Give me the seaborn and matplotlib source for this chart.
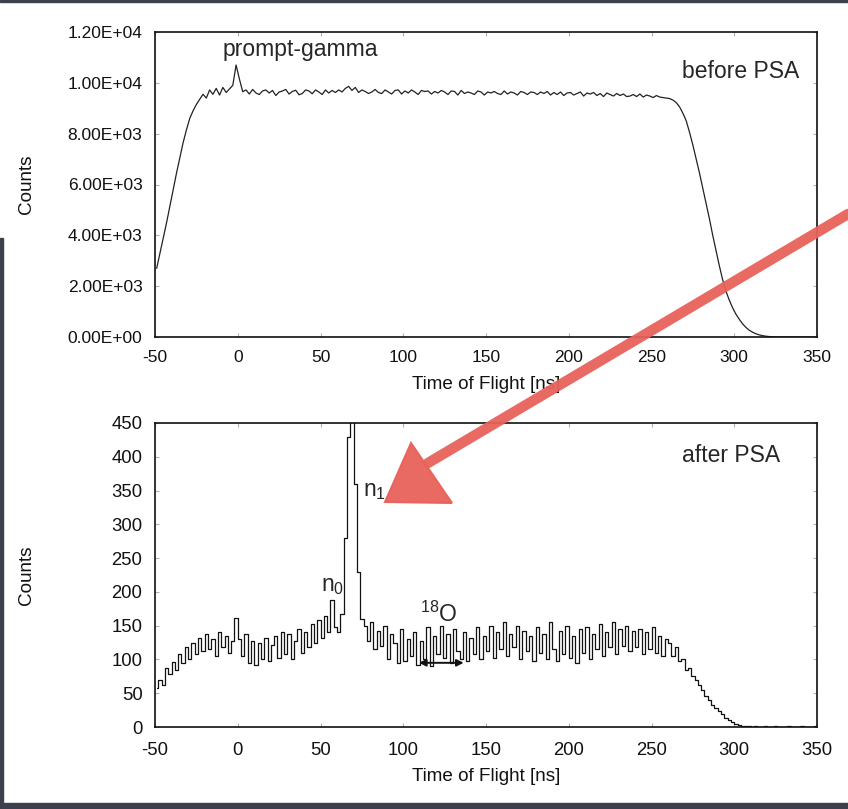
import numpy as np
import pandas as pd
import matplotlib
matplotlib.use("Agg")
import matplotlib.pyplot as plt
import seaborn as sns
from matplotlib.ticker import FuncFormatter, FixedLocator
from matplotlib.patches import Rectangle, Polygon
from matplotlib.lines import Line2D

# ---------------- data ----------------
tof_centers = np.arange(-49, 350, 2)  # 2 ns bins, centres

counts_before = [
    2700, 3300, 3900, 4500, 5150, 5800, 6450, 7050, 7650, 8150,
    8600, 8900, 9150, 9350, 9550, 9400, 9720, 9550, 9780, 9520,
    9820, 9620, 9760, 9900, 10700,
    10150, 9650, 9720, 9560, 9740, 9600, 9540, 9680, 9720, 9600,
    9700, 9500, 9640, 9680, 9740, 9560, 9660, 9710, 9530, 9580,
    9720, 9680, 9570, 9720, 9640, 9540, 9720, 9600, 9700, 9620,
    9720, 9640, 9780, 9860, 9700, 9820, 9620, 9720, 9660, 9580,
    9640, 9740, 9620, 9580, 9720, 9640, 9560, 9700, 9720, 9560,
    9680, 9600, 9720, 9640, 9540, 9700, 9660, 9680, 9560, 9660,
    9600, 9700, 9640, 9540, 9680, 9660, 9520, 9700, 9580, 9640,
    9600, 9540, 9680, 9640, 9520, 9640, 9600, 9660, 9580, 9540,
    9680, 9560, 9640, 9600, 9520, 9660, 9620, 9540, 9640, 9620,
    9540, 9640, 9580, 9660, 9520, 9620, 9540, 9640, 9500, 9600,
    9620, 9520, 9580, 9640, 9480, 9600, 9560, 9620, 9500, 9580,
    9460, 9600, 9540, 9480, 9580, 9500, 9560, 9460, 9480, 9540,
    9460, 9560, 9440, 9520, 9480, 9420, 9500, 9440, 9420, 9400,
    9380, 9320, 9220, 9050, 8800, 8500, 8050, 7550, 7000, 6450,
    5850, 5250, 4650, 4000, 3400, 2800, 2250, 1800, 1450, 1150,
    900, 700, 520, 380, 270, 190, 130, 85, 55, 32,
    18, 10, 5, 3, 2, 1, 1, 0, 0, 0,
    0, 0, 0, 0, 0,
]

counts_after = [
    58, 70, 62, 88, 78, 96, 84, 108, 95, 118,
    100, 125, 108, 132, 112, 138, 115, 130, 105, 140,
    118, 135, 110, 128, 162,
    130, 105, 138, 95, 128, 92, 125, 100, 132, 98,
    122, 135, 102, 140, 108, 138, 100, 128, 145, 110,
    140, 118, 152, 125, 158, 132, 165, 140, 188, 148,
    140, 168, 280, 430, 480, 360, 230, 160, 150, 128,
    155, 115, 142, 120, 150, 100, 138, 125, 95, 145,
    98, 130, 105, 140, 92, 128, 100, 148, 90, 135,
    108, 150, 102, 138, 95, 145, 112, 100, 140, 98,
    132, 108, 148, 100, 135, 112, 150, 102, 140, 115,
    155, 105, 138, 118, 150, 100, 142, 112, 135, 98,
    148, 110, 138, 100, 155, 115, 98, 142, 108, 150,
    102, 135, 95, 145, 110, 148, 100, 138, 115, 152,
    105, 140, 118, 155, 108, 145, 120, 150, 112, 142,
    118, 145, 108, 140, 115, 148, 110, 135, 105, 130,
    125, 105, 118, 98, 100, 85, 88, 75, 70, 62,
    55, 46, 40, 33, 28, 23, 19, 14, 10, 7,
    5, 3, 2, 1, 1,
    0, 1, 0, 0, 1, 0, 0, 1, 0, 0,
    0, 1, 0, 0, 0, 1, 0, 0, 0, 1,
]

x_ticks = [-50, 0, 50, 100, 150, 200, 250, 300, 350]
before_yticks = [0, 2000, 4000, 6000, 8000, 10000, 12000]
after_yticks = [0, 50, 100, 150, 200, 250, 300, 350, 400, 450]

# ---------------- style ----------------
sns.set_style("ticks")
plt.rcParams["font.family"] = ["Liberation Sans", "DejaVu Sans"]
plt.rcParams["mathtext.fontset"] = "custom"
plt.rcParams["mathtext.rm"] = "Liberation Sans"
plt.rcParams["mathtext.default"] = "regular"
plt.rcParams["axes.unicode_minus"] = False

W, H = 848, 809
fig = plt.figure(figsize=(W / 100, H / 100), dpi=100)
fig.patch.set_facecolor("white")


def px_rect(x0, y0, x1, y1):
    return [x0 / W, 1 - y1 / H, (x1 - x0) / W, (y1 - y0) / H]


def fpt(x, y):
    return (x / W, 1 - y / H)


ax1 = fig.add_axes(px_rect(155, 32, 817, 337))
ax2 = fig.add_axes(px_rect(155, 423, 817, 727))

df_before = pd.DataFrame({"tof": tof_centers, "counts": counts_before})
df_after = pd.DataFrame({"tof": tof_centers, "counts": counts_after})

sns.lineplot(data=df_before, x="tof", y="counts", ax=ax1, estimator=None,
             color="#222222", lw=0.9)
sns.lineplot(data=df_after, x="tof", y="counts", ax=ax2, estimator=None,
             drawstyle="steps-mid", color="#111111", lw=0.9)

for ax, yt, ylim, tsize in ((ax1, before_yticks, (0, 12000), 12.5),
                            (ax2, after_yticks, (0, 450), 13.3)):
    ax.set_xlim(-50, 350)
    ax.set_ylim(*ylim)
    ax.xaxis.set_major_locator(FixedLocator(x_ticks))
    ax.yaxis.set_major_locator(FixedLocator(yt))
    ax.tick_params(direction="in", length=3, width=0.8, color="#b0b0b0",
                   top=True, right=True, labelsize=tsize, labelcolor="#111111")
    ax.tick_params(axis="y", pad=9)
    for s in ax.spines.values():
        s.set_visible(True)
        s.set_linewidth(1.2)
        s.set_color("#111111")
    ax.set_xlabel("Time of Flight [ns]", fontsize=13.6, color="#111111")
    ax.set_ylabel("Counts", fontsize=13.6, color="#111111")
    ax.yaxis.set_label_coords(-0.181, 0.5)

ax1.tick_params(axis="x", pad=9)
ax2.tick_params(axis="x", pad=11)
ax1.xaxis.set_label_coords(0.5, -0.128)
ax2.xaxis.set_label_coords(0.5, -0.135)

ax1.yaxis.set_major_formatter(FuncFormatter(lambda v, p: f"{v:.2E}"))

# annotations
ax1.text(37.6, 11300, "prompt-gamma", fontsize=16.5, ha="center", va="center")
ax1.text(339.5, 10450, "before PSA", fontsize=16.5, ha="right", va="center")
ax2.text(327.5, 402, "after PSA", fontsize=16.5, ha="right", va="center")
ax2.text(75.5, 350, "n$_1$", fontsize=16.5, ha="left", va="center")
ax2.text(50.3, 210, "n$_0$", fontsize=16.5, ha="left", va="center")
ax2.text(110, 156, "$^{18}$O", fontsize=16.5, ha="left", va="baseline")
ax2.annotate("", xy=(136.5, 95), xytext=(109.5, 95),
             arrowprops=dict(arrowstyle="<|-|>", lw=1.4, color="#111111",
                             mutation_scale=10, shrinkA=0, shrinkB=0))

# hand-drawn red arrow overlay
red = "#e8625b"
lx = [fpt(848, 214)[0], fpt(428, 463)[0]]
ly = [fpt(848, 214)[1], fpt(428, 463)[1]]
fig.add_artist(Line2D(lx, ly, transform=fig.transFigure, color=red, lw=7.5,
                      solid_capstyle="round", alpha=0.95, zorder=20))
fig.add_artist(Polygon([fpt(411, 443), fpt(385, 502), fpt(452, 503)],
                       closed=True, transform=fig.transFigure, facecolor=red,
                       edgecolor=red, lw=1.5, alpha=0.95, zorder=20))

# dark screenshot frame
dark = "#3c404c"
fig.add_artist(Rectangle((0, 1 - 2 / H), 1, 2 / H, transform=fig.transFigure,
                         color=dark, zorder=30))
fig.add_artist(Rectangle((0, 0), 3 / W, (H - 238) / H, transform=fig.transFigure,
                         color=dark, zorder=30))
fig.add_artist(Rectangle((0, 0), 1, 6 / H, transform=fig.transFigure,
                         color=dark, zorder=30))

fig.savefig("out.png", dpi=100)
